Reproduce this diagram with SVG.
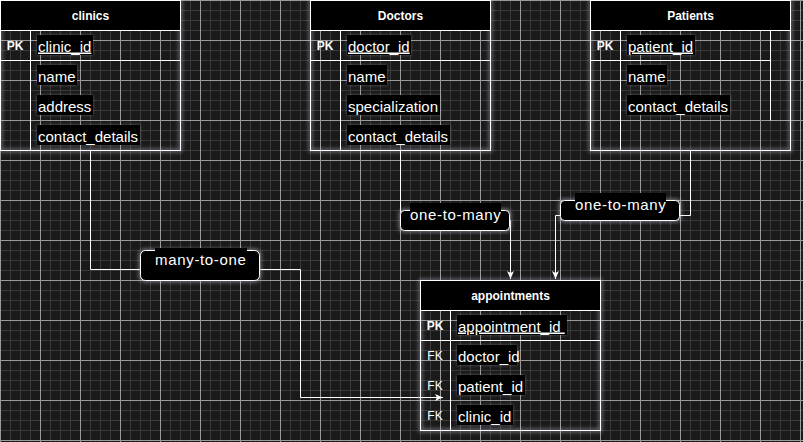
<svg xmlns="http://www.w3.org/2000/svg" width="803" height="442" viewBox="0 0 803 442">
<defs>
<pattern id="grid" width="40" height="40" patternUnits="userSpaceOnUse">
<rect width="40" height="40" fill="#1a1a1a"/>
<path d="M10.5 0V40M20.5 0V40M30.5 0V40M0 10.5H40M0 20.5H40M0 30.5H40" stroke="#3a3a3a" stroke-width="1"/>
<path d="M0.5 0V40M0 0.5H40" stroke="#9a9a9a" stroke-width="1"/>
</pattern>
<filter id="glow" x="-20%" y="-20%" width="140%" height="140%">
<feMorphology operator="dilate" radius="1" in="SourceAlpha" result="d"/>
<feGaussianBlur in="d" stdDeviation="2" result="b"/>
<feFlood flood-color="#c8c8e0" flood-opacity="0.55"/>
<feComposite in2="b" operator="in" result="g"/>
<feMerge><feMergeNode in="g"/><feMergeNode in="SourceGraphic"/></feMerge>
</filter>
<filter id="tglow" x="-20%" y="-40%" width="140%" height="180%">
<feGaussianBlur in="SourceAlpha" stdDeviation="1.5" result="b"/>
<feFlood flood-color="#b8b8d0" flood-opacity="0.45"/>
<feComposite in2="b" operator="in" result="g"/>
<feMerge><feMergeNode in="g"/><feMergeNode in="SourceGraphic"/></feMerge>
</filter>
<marker id="arrow" markerUnits="userSpaceOnUse" markerWidth="8" markerHeight="8" viewBox="0 0 8 8" refX="8" refY="4" orient="auto">
<path d="M0 0.5L8 4L0 7.5L2 4Z" fill="#fff"/>
</marker>
</defs>
<style>
.box{fill:none;stroke:#fff;stroke-width:1}
.hdr{fill:#000;stroke:#fff;stroke-width:1}
.ln{stroke:#fff;stroke-width:1}
.title{font-family:"Liberation Sans",Arial,sans-serif;font-size:12px;font-weight:bold;fill:#fff;text-anchor:middle}
.key{font-family:"Liberation Sans",Arial,sans-serif;font-size:12px;fill:#fff;text-anchor:middle}
.pk{font-weight:bold}
.fld{font-family:"Liberation Sans",Arial,sans-serif;font-size:15px;fill:#fff}
.u{text-decoration:underline}
.tbg{fill:#000}
.lbl{fill:#000;stroke:#fff;stroke-width:1}
.ltx{font-family:"Liberation Sans",Arial,sans-serif;font-size:15px;letter-spacing:0.65px;fill:#fff;text-anchor:middle}
</style>
<rect width="803" height="442" fill="url(#grid)"/>

<g id="connectors" fill="none" stroke="#fff" stroke-width="1">
<path d="M90.5 150.5V269.5H300.5V397.5H443" marker-end="url(#arrow)"/>
<path d="M400.5 150.5V220.5H510.5V279" marker-end="url(#arrow)"/>
<path d="M690.5 150.5V215.5H555.5V279" marker-end="url(#arrow)"/>
</g>

<g id="clinics">
<rect class="box" x="0.5" y="0.5" width="180" height="150" filter="url(#glow)"/>
<rect class="hdr" x="0.5" y="0.5" width="180" height="30"/>
<text class="title" x="90.5" y="19.5">clinics</text>
<line class="ln" x1="30.5" y1="30.5" x2="30.5" y2="150.5"/>
<line class="ln" x1="0.5" y1="60.5" x2="180.5" y2="60.5"/>
<text class="key pk" x="15" y="49.5">PK</text>
<rect class="tbg" x="37" y="35" width="56" height="20" filter="url(#tglow)"/>
<text class="fld u" x="38" y="51.5">clinic_id</text>
<rect class="tbg" x="37" y="65" width="40" height="20" filter="url(#tglow)"/>
<text class="fld" x="38" y="81.5">name</text>
<rect class="tbg" x="37" y="95" width="56" height="20" filter="url(#tglow)"/>
<text class="fld" x="38" y="111.5">address</text>
<rect class="tbg" x="37" y="125" width="103" height="20" filter="url(#tglow)"/>
<text class="fld" x="38" y="141.5">contact_details</text>
</g>

<g id="doctors">
<rect class="box" x="310.5" y="0.5" width="180" height="150" filter="url(#glow)"/>
<rect class="hdr" x="310.5" y="0.5" width="180" height="30"/>
<text class="title" x="400.5" y="19.5">Doctors</text>
<line class="ln" x1="340.5" y1="30.5" x2="340.5" y2="150.5"/>
<line class="ln" x1="310.5" y1="60.5" x2="490.5" y2="60.5"/>
<text class="key pk" x="325" y="49.5">PK</text>
<rect class="tbg" x="347" y="35" width="64" height="20" filter="url(#tglow)"/>
<text class="fld u" x="348" y="51.5">doctor_id</text>
<rect class="tbg" x="347" y="65" width="40" height="20" filter="url(#tglow)"/>
<text class="fld" x="348" y="81.5">name</text>
<rect class="tbg" x="347" y="95" width="93" height="20" filter="url(#tglow)"/>
<text class="fld" x="348" y="111.5">specialization</text>
<rect class="tbg" x="347" y="125" width="103" height="20" filter="url(#tglow)"/>
<text class="fld" x="348" y="141.5">contact_details</text>
</g>

<g id="patients">
<rect class="box" x="590.5" y="0.5" width="200" height="150" filter="url(#glow)"/>
<rect class="hdr" x="590.5" y="0.5" width="200" height="30"/>
<text class="title" x="690.5" y="19.5">Patients</text>
<line class="ln" x1="620.5" y1="30.5" x2="620.5" y2="150.5"/>
<line class="ln" x1="590.5" y1="60.5" x2="770.5" y2="60.5"/>
<line class="ln" x1="770.5" y1="30.5" x2="770.5" y2="120.5"/>
<text class="key pk" x="605" y="49.5">PK</text>
<rect class="tbg" x="627" y="35" width="68" height="20" filter="url(#tglow)"/>
<text class="fld u" x="628" y="51.5">patient_id</text>
<rect class="tbg" x="627" y="65" width="40" height="20" filter="url(#tglow)"/>
<text class="fld" x="628" y="81.5">name</text>
<rect class="tbg" x="627" y="95" width="103" height="20" filter="url(#tglow)"/>
<text class="fld" x="628" y="111.5">contact_details</text>
</g>

<g id="appointments">
<rect class="box" x="420.5" y="280.5" width="180" height="150" filter="url(#glow)"/>
<rect class="hdr" x="420.5" y="280.5" width="180" height="30"/>
<text class="title" x="510.5" y="299.5">appointments</text>
<line class="ln" x1="450.5" y1="310.5" x2="450.5" y2="430.5"/>
<line class="ln" x1="420.5" y1="340.5" x2="600.5" y2="340.5"/>
<text class="key pk" x="435" y="329.5">PK</text>
<rect class="tbg" x="457" y="315" width="110" height="20" filter="url(#tglow)"/>
<text class="fld u" x="458" y="331.5" xml:space="preserve">appointment_id </text>
<text class="key" x="435" y="359.5">FK</text>
<rect class="tbg" x="457" y="345" width="60" height="20" filter="url(#tglow)"/>
<text class="fld" x="458" y="361.5">doctor_id</text>
<text class="key" x="435" y="389.5">FK</text>
<rect class="tbg" x="457" y="375" width="68" height="20" filter="url(#tglow)"/>
<text class="fld" x="458" y="391.5">patient_id</text>
<text class="key" x="435" y="419.5">FK</text>
<rect class="tbg" x="457" y="405" width="56" height="20" filter="url(#tglow)"/>
<text class="fld" x="458" y="421.5">clinic_id</text>
</g>

<g id="label-many-to-one">
<rect class="lbl" x="140.5" y="250.5" width="119" height="30" rx="5" filter="url(#glow)"/>
<rect class="tbg" x="155" y="248" width="92" height="20"/>
<text class="ltx" x="200.8" y="265">many-to-one</text>
</g>
<g id="label-one-to-many-1">
<rect class="lbl" x="400.5" y="210.5" width="109" height="20" rx="4" filter="url(#glow)"/>
<rect class="tbg" x="410" y="203" width="91" height="20"/>
<text class="ltx" x="455.8" y="220">one-to-many</text>
</g>
<g id="label-one-to-many-2">
<rect class="lbl" x="560.5" y="200.5" width="119" height="20" rx="4" filter="url(#glow)"/>
<rect class="tbg" x="575" y="193" width="91" height="20"/>
<text class="ltx" x="620.8" y="210">one-to-many</text>
</g>
</svg>
